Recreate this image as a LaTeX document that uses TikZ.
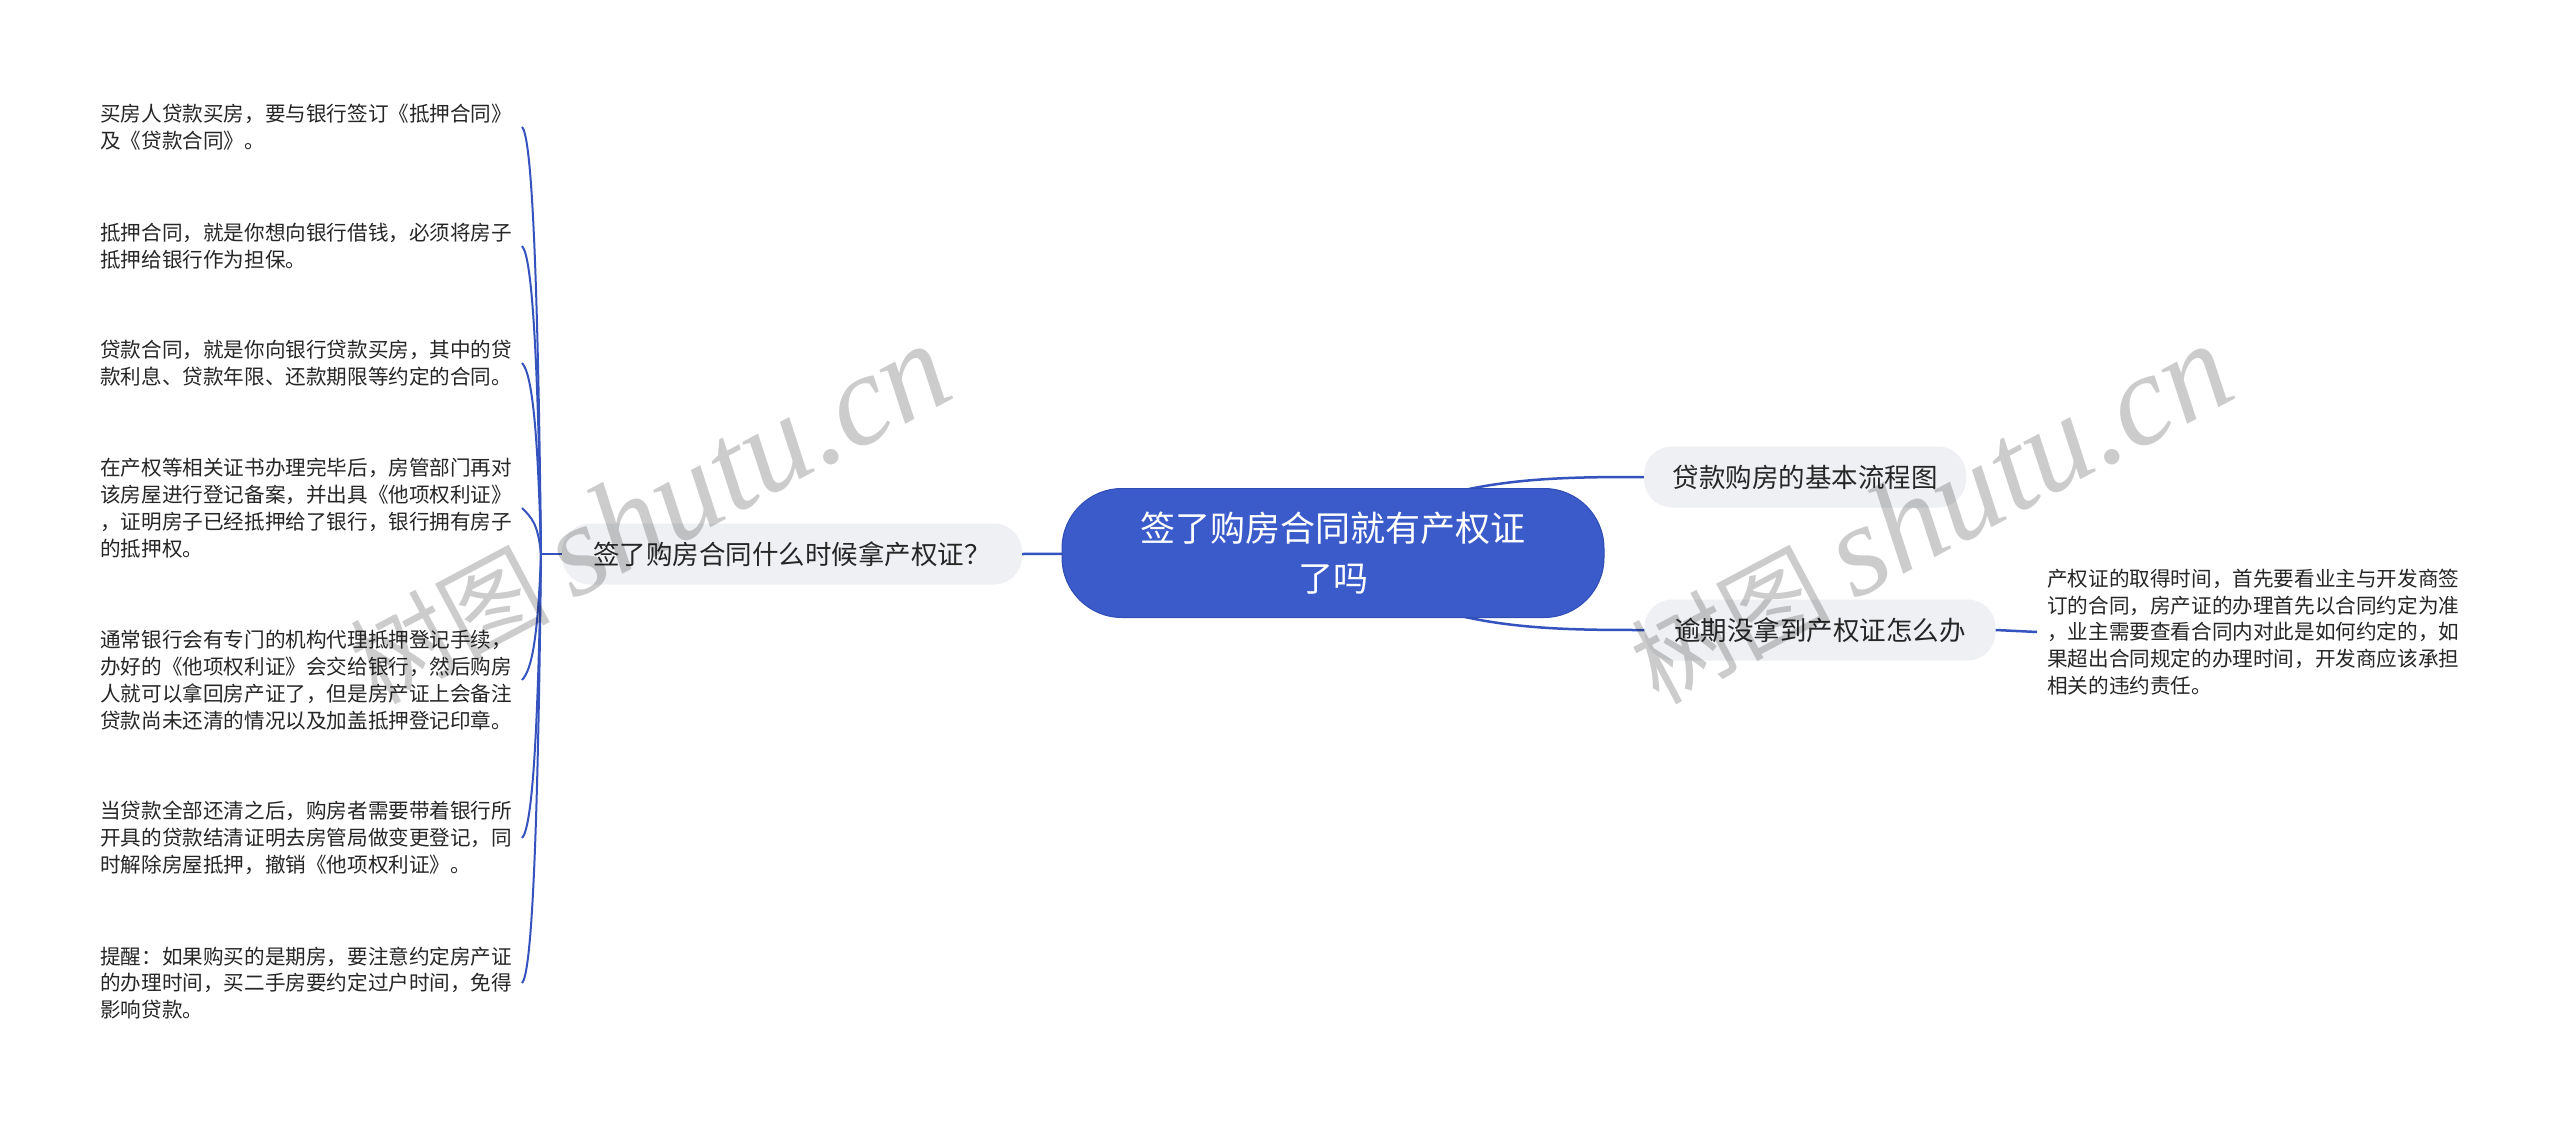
\documentclass[tikz,border=0pt]{standalone}
\usepackage{fontspec}
\setmainfont{Noto Sans CJK SC}
\newfontfamily\wmlatin{Liberation Serif}
\definecolor{mainblue}{HTML}{3B5BCB}
\definecolor{mainborder}{HTML}{2F4DB3}
\definecolor{lineblue}{HTML}{3553BE}
\definecolor{branchgray}{HTML}{EEF0F3}
\definecolor{txt}{HTML}{262626}
\begin{document}
\begin{tikzpicture}[x=1pt,y=-1pt,
  root/.style={fill=mainblue, draw=mainborder, line width=1pt, rounded corners=60pt,
    minimum width=542pt, minimum height=129pt, text=white, align=center,
    font=\fontsize{35}{50}\selectfont, inner sep=0pt},
  branch/.style={fill=branchgray, rounded corners=28pt, minimum height=61pt,
    inner sep=0pt, font=\fontsize{26.5}{30}\selectfont, text=txt},
  leaf/.style={anchor=west, align=left, inner sep=0pt,
    font=\fontsize{20.6}{26.8}\selectfont, text=txt},
  conn/.style={draw=lineblue, line width=2.5pt},
  leafconn/.style={draw=lineblue, line width=2pt},
  wm/.style={text=black, text opacity=0.2, rotate=28, inner sep=0pt}]
\useasboundingbox[fill=white] (0,0) rectangle (2560,1121);

% connectors between main nodes (behind)
\coordinate (tA) at (1333,553);
\coordinate (J) at (541,554);

% nodes
\node[branch, minimum width=460pt] (lb) at (792,554) {签了购房合同什么时候拿产权证？};
\node[branch, minimum width=322pt] (r1) at (1805,477) {贷款购房的基本流程图};
\node[branch, minimum width=351pt] (r2) at (1820,630) {逾期没拿到产权证怎么办};

\draw[conn] (tA) .. controls (1420,477) and (1540,477) .. (r1.west);
\draw[conn] (tA) .. controls (1420,630) and (1540,630) .. (r2.west);
\draw[conn] (tA) -- (lb.east);

\node[root] (root) at (1333,553) {签了购房合同就有产权证\\了吗};

\node[leaf] (rl) at (2047,632) {产权证的取得时间，首先要看业主与开发商签\\订的合同，房产证的办理首先以合同约定为准\\，业主需要查看合同内对此是如何约定的，如\\果超出合同规定的办理时间，开发商应该承担\\相关的违约责任。};
\draw[conn] (r2.east) -- ([xshift=-10pt]rl.west);

\node[leaf] (l1) at (100,127) {买房人贷款买房，要与银行签订《抵押合同》\\及《贷款合同》。};
\node[leaf] (l2) at (100,246) {抵押合同，就是你想向银行借钱，必须将房子\\抵押给银行作为担保。};
\node[leaf] (l3) at (100,363) {贷款合同，就是你向银行贷款买房，其中的贷\\款利息、贷款年限、还款期限等约定的合同。};
\node[leaf] (l4) at (100,508) {在产权等相关证书办理完毕后，房管部门再对\\该房屋进行登记备案，并出具《他项权利证》\\，证明房子已经抵押给了银行，银行拥有房子\\的抵押权。};
\node[leaf] (l5) at (100,680) {通常银行会有专门的机构代理抵押登记手续，\\办好的《他项权利证》会交给银行，然后购房\\人就可以拿回房产证了，但是房产证上会备注\\贷款尚未还清的情况以及加盖抵押登记印章。};
\node[leaf] (l6) at (100,838) {当贷款全部还清之后，购房者需要带着银行所\\开具的贷款结清证明去房管局做变更登记，同\\时解除房屋抵押，撤销《他项权利证》。};
\node[leaf] (l7) at (100,983) {提醒：如果购买的是期房，要注意约定房产证\\的办理时间，买二手房要约定过户时间，免得\\影响贷款。};

\draw[conn] (lb.west) -- (J);
\draw[leafconn] (J) .. controls (538,276) and (532,137) .. (522,127);
\draw[leafconn] (J) .. controls (538,354) and (532,256) .. (522,246);
\draw[leafconn] (J) .. controls (538,430) and (532,373) .. (522,363);
\draw[leafconn] (J) .. controls (538,524) and (532,518) .. (522,508);
\draw[leafconn] (J) .. controls (538,636) and (532,670) .. (522,680);
\draw[leafconn] (J) .. controls (538,739) and (532,828) .. (522,838);
\draw[leafconn] (J) .. controls (538,833) and (532,973) .. (522,983);

% watermarks
\node[wm] (wm1) at (649,514) {\fontsize{100}{110}\selectfont 树图 {\wmlatin\itshape\fontsize{130}{140}\selectfont shutu.cn}};
\node[wm] (wm2) at (1930,514) {\fontsize{100}{110}\selectfont 树图 {\wmlatin\itshape\fontsize{130}{140}\selectfont shutu.cn}};
\end{tikzpicture}
\end{document}
